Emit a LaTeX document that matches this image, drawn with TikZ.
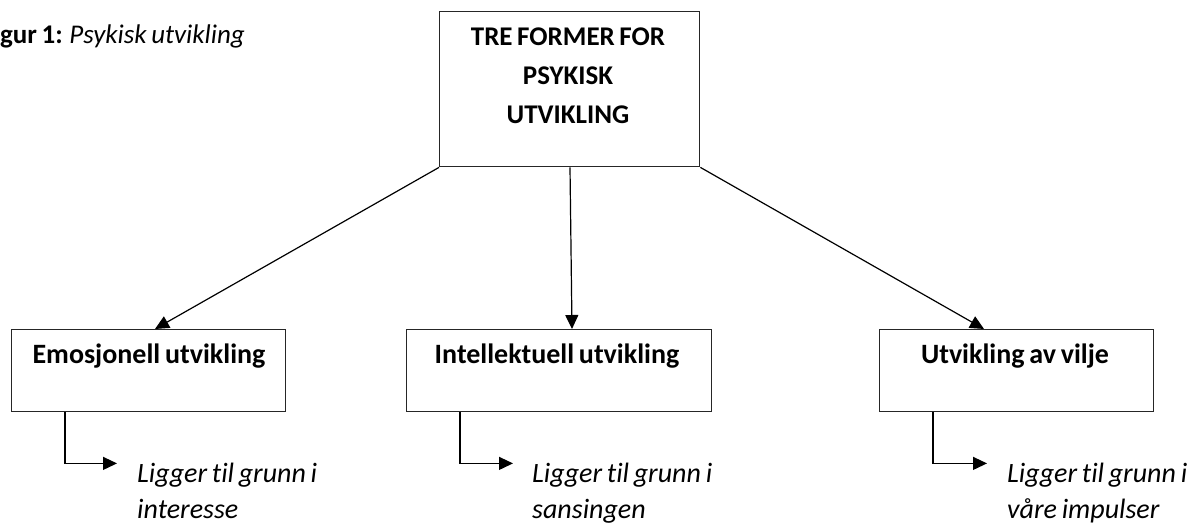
\documentclass[tikz,border=0pt]{standalone}
\usepackage{fontspec}
\setmainfont{Carlito}[Ligatures=NoCommon,WordSpace=0.75]
\usetikzlibrary{arrows.meta,calc}
\begin{document}
\begin{tikzpicture}[x=1pt,y=-1pt,
  box/.style={draw=black!85,line width=1.4pt,minimum width=#1,minimum height=82pt,inner sep=0pt,anchor=north west},
  head/.style={font=\fontsize{28}{39}\selectfont\bfseries,anchor=base,inner sep=0pt},
  note/.style={font=\fontsize{28}{36}\selectfont\itshape,align=left,anchor=north west,inner sep=0pt},
  link/.style={line width=1.2pt,-{Triangle[length=14pt,width=13pt]}}]
  \useasboundingbox (0,0) rectangle (1199,526);

  % caption
  \node[anchor=base west,inner sep=0pt,font=\fontsize{27}{30}\selectfont] (cap) at (0,44)
    {\textbf{gur 1:} \textit{Psykisk utvikling}};

  % main box
  \node[draw=black!85,line width=1.4pt,minimum width=260pt,minimum height=155pt,inner sep=0pt,anchor=north west] (top) at (439,11) {};
  \node[font=\fontsize{27}{39}\selectfont\bfseries,align=center,inner sep=0pt] (toptext) at (568,76)
    {TRE FORMER FOR\\PSYKISK\\UTVIKLING};

  % three branches
  \node[box=274pt] (emo) at (11,329) {};
  \node[box=305pt] (int) at (406,329) {};
  \node[box=274pt] (vil) at (879,329) {};
  \node[head] (emot) at (149,363) {Emosjonell utvikling};
  \node[head] (intt) at (557,363) {Intellektuell utvikling};
  \node[head] (vilt) at (1015,363) {Utvikling av vilje};

  \draw[link] (top.south west) -- ($(emo.north west)+(144,0)$);
  \draw[link] ($(top.south west)+(131,0)$) -- ($(int.north west)+(166,0)$);
  \draw[link] (top.south east) -- ($(vil.north west)+(105,0)$);

  % notes
  \node[note] (emon) at (137,463) {Ligger til grunn i\\interesse};
  \node[note] (intn) at (532,463) {Ligger til grunn i\\sansingen};
  \node[note] (viln) at (1007,463) {Ligger til grunn i\\våre impulser};

  \coordinate (emoa) at ($(emo.south west)+(106,51)$);
  \coordinate (inta) at ($(int.south west)+(107,51)$);
  \coordinate (vila) at ($(vil.south west)+(108,51)$);
  \draw[link] ($(emo.south west)+(54,0)$) |- (emoa);
  \draw[link] ($(int.south west)+(54,0)$) |- (inta);
  \draw[link] ($(vil.south west)+(54,0)$) |- (vila);
\end{tikzpicture}
\end{document}
